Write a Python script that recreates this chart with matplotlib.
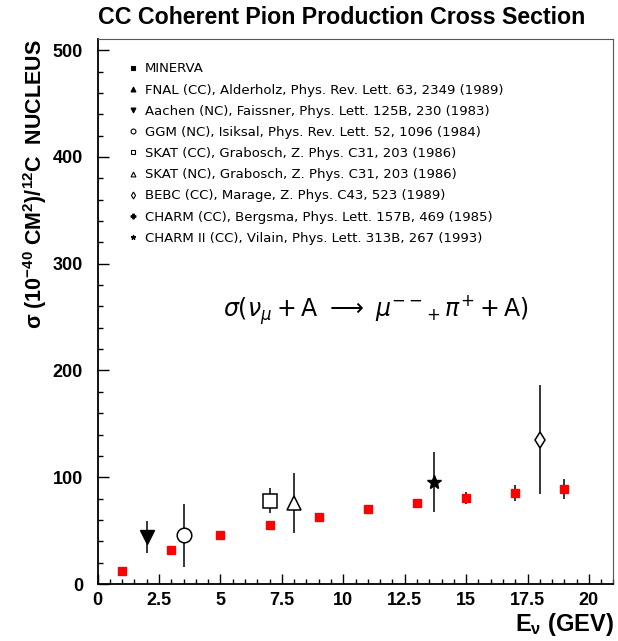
import matplotlib
matplotlib.use("Agg")
import matplotlib.pyplot as plt
from matplotlib.lines import Line2D

# MINERvA CC coherent pion cross section
minerva_e = [1, 3, 5, 7, 9, 11, 13, 15, 17, 19]
minerva_sigma = [12, 32, 46, 55.5, 63, 70, 75.5, 80.5, 85, 89]
minerva_err = [1, 1.5, 2, 2.5, 3, 3.8, 4.5, 6, 7.5, 9]

# Earlier measurements (energy, cross section, error)
aachen_e, aachen_sigma, aachen_err = [2.0], [44], [15]
ggm_e, ggm_sigma, ggm_err = [3.5], [45.5], [29.5]
skat_cc_e, skat_cc_sigma, skat_cc_err = [7.0], [78], [11.5]
skat_nc_e, skat_nc_sigma, skat_nc_err = [8.0], [76], [28]
charm2_e, charm2_sigma, charm2_err = [13.7], [95.5], [28]
bebc_e, bebc_sigma, bebc_err = [18.0], [135], [51]

legend_labels = [
    "MINERVA",
    "FNAL (CC), Alderholz, Phys. Rev. Lett. 63, 2349 (1989)",
    "Aachen (NC), Faissner, Phys. Lett. 125B, 230 (1983)",
    "GGM (NC), Isiksal, Phys. Rev. Lett. 52, 1096 (1984)",
    "SKAT (CC), Grabosch, Z. Phys. C31, 203 (1986)",
    "SKAT (NC), Grabosch, Z. Phys. C31, 203 (1986)",
    "BEBC (CC), Marage, Z. Phys. C43, 523 (1989)",
    "CHARM (CC), Bergsma, Phys. Lett. 157B, 469 (1985)",
    "CHARM II (CC), Vilain, Phys. Lett. 313B, 267 (1993)",
]

x_ticks = [0, 2.5, 5, 7.5, 10, 12.5, 15, 17.5, 20]
x_ticklabels = ["0", "2.5", "5", "7.5", "10", "12.5", "15", "17.5", "20"]
y_ticks = [0, 100, 200, 300, 400, 500]

plt.rcParams["mathtext.fontset"] = "custom"
plt.rcParams["mathtext.rm"] = "Liberation Sans:bold"
plt.rcParams["mathtext.it"] = "Liberation Sans:bold"
plt.rcParams["mathtext.bf"] = "Liberation Sans:bold"
plt.rcParams["mathtext.sf"] = "Liberation Sans:bold"

fig = plt.figure(figsize=(6.18, 6.41), dpi=100)
ax = fig.add_axes([0.158, 0.0889, 0.8347, 0.8495])
ax.set_xlim(0, 21)
ax.set_ylim(0, 510)

err_kw = dict(ecolor="black", elinewidth=1.1, capsize=0, linestyle="none")

ax.errorbar(minerva_e, minerva_sigma, yerr=minerva_err, marker="s", ms=5.8,
            mfc="#ff0000", mec="#ff0000", zorder=3, **err_kw)
ax.errorbar(aachen_e, aachen_sigma, yerr=aachen_err, marker="v", ms=9.5,
            mfc="black", mec="black", zorder=3, **err_kw)
ax.errorbar(ggm_e, ggm_sigma, yerr=ggm_err, marker="o", ms=10.5,
            mfc="white", mec="black", mew=1.1, zorder=3, **err_kw)
ax.errorbar(skat_cc_e, skat_cc_sigma, yerr=skat_cc_err, marker="s", ms=10,
            mfc="white", mec="black", mew=1.1, zorder=3, **err_kw)
ax.errorbar(skat_nc_e, skat_nc_sigma, yerr=skat_nc_err, marker="^", ms=10.5,
            mfc="white", mec="black", mew=1.1, zorder=3, **err_kw)
ax.errorbar(charm2_e, charm2_sigma, yerr=charm2_err, marker="*", ms=10,
            mfc="black", mec="black", zorder=3, **err_kw)
ax.errorbar(bebc_e, bebc_sigma, yerr=bebc_err, marker="d", ms=8.5,
            mfc="white", mec="black", mew=1.1, zorder=3, **err_kw)

# Legend handles (small black symbols)
lg_specs = [
    dict(marker="s", mfc="black"),
    dict(marker="^", mfc="black"),
    dict(marker="v", mfc="black"),
    dict(marker="o", mfc="white"),
    dict(marker="s", mfc="white"),
    dict(marker="^", mfc="white"),
    dict(marker="d", mfc="white"),
    dict(marker="P", mfc="black"),
    dict(marker="*", mfc="black"),
]
handles = [Line2D([], [], linestyle="none", ms=3.5, mec="black", mew=0.8, **s)
           for s in lg_specs]
ax.legend(handles, legend_labels, loc="upper left",
          bbox_to_anchor=(0.055, 0.958), frameon=False,
          prop={"family": "DejaVu Sans", "size": 9.5},
          handlelength=1.0, handletextpad=0.45, labelspacing=0.62,
          borderaxespad=0, borderpad=0)

ax.text(0.54, 0.503,
        r"$\sigma(\nu_{\mu} + \mathrm{A} \ \longrightarrow\ \mu^{--}{}_{+}\,\pi^{+} + \mathrm{A})$",
        transform=ax.transAxes, ha="center", va="center", fontsize=17,
        math_fontfamily="dejavusans")

ax.set_xticks(x_ticks)
ax.set_xticklabels(x_ticklabels)
ax.set_yticks(y_ticks)
ax.set_xticks([i * 0.5 for i in range(43)], minor=True)
ax.set_yticks(list(range(0, 511, 20)), minor=True)
ax.tick_params(which="both", direction="in", top=False, right=False,
               width=1.0, color="black")
ax.tick_params(axis="x", which="major", length=7.5, pad=5.5)
ax.tick_params(axis="y", which="major", length=8, pad=10.5)
ax.tick_params(which="minor", length=3.6)
for lab in ax.get_xticklabels() + ax.get_yticklabels():
    lab.set_fontfamily("Liberation Sans")
    lab.set_fontweight("bold")
    lab.set_fontsize(13)

for side in ("left", "bottom"):
    ax.spines[side].set_linewidth(1.3)
    ax.spines[side].set_color("black")
for side in ("top", "right"):
    ax.spines[side].set_linewidth(0.8)
    ax.spines[side].set_color("#555555")

ax.set_xlabel(r"E$_{\nu}$ (GEV)", loc="right", fontsize=17,
              fontfamily="Liberation Sans", fontweight="bold", labelpad=2)
ax.set_ylabel(r"$\sigma$ (10$^{-40}$ CM$^{2}$)/$^{12}$C  NUCLEUS", loc="top",
              fontsize=15.5, fontfamily="Liberation Sans", fontweight="bold",
              labelpad=3)

fig.text(0.553, 0.972, "CC Coherent Pion Production Cross Section",
         ha="center", va="center", fontsize=16.7, fontfamily="Liberation Sans",
         fontweight="bold")

fig.savefig("out.png", dpi=100)
